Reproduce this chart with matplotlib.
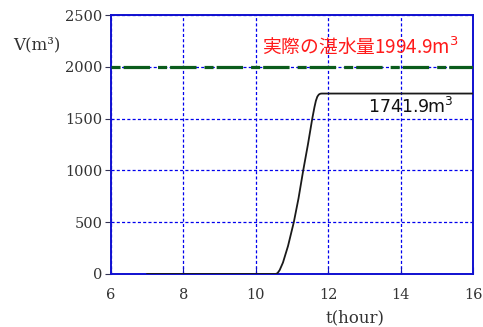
import matplotlib
matplotlib.use("Agg")
import matplotlib.pyplot as plt

# stored volume curve (hour, m3)
t_hour = [7.0, 10.55, 10.60, 10.66, 10.75, 10.89, 11.05, 11.18, 11.31, 11.44,
          11.56, 11.62, 11.66, 11.70, 11.74, 11.78, 11.82, 16.0]
volume = [0.0, 0.0, 8.0, 38.0, 110.0, 270.0, 500.0, 730.0, 1000.0, 1250.0,
          1500.0, 1610.0, 1672.0, 1712.0, 1732.0, 1740.0, 1741.9, 1741.9]
actual_volume = 1994.9
final_volume = 1741.9

plt.rcParams["lines.scale_dashes"] = False

fig = plt.figure(figsize=(4.83, 3.27), dpi=100)
ax = fig.add_axes([0.2298, 0.1621, 0.7495, 0.792])

ax.axhline(actual_volume, color="#0b5c1c", lw=2.3,
           linestyle=(0, (6.5, 2.2, 19.0, 5.8)), zorder=3)
ax.plot(t_hour, volume, color="#1a1a1a", lw=1.3, zorder=4)

ax.set_xlim(6, 16)
ax.set_ylim(0, 2500)
ax.set_xticks(range(6, 17, 2))
ax.set_yticks(range(0, 2501, 500))
ax.grid(True, color="#0000ee", lw=0.9, linestyle=(0, (2.2, 1.6)))

for side in ax.spines.values():
    side.set_color("#1010d0")
    side.set_linewidth(1.4)

ax.tick_params(axis="x", direction="in", length=5, color="#1010c0",
               labelsize=10.5, labelcolor="#333333", pad=10)
ax.tick_params(axis="y", direction="out", length=4, color="#333355",
               labelsize=10.5, labelcolor="#333333", pad=2)
for lab in ax.get_xticklabels() + ax.get_yticklabels():
    lab.set_family("DejaVu Serif")

ax.text(10.17, 2191, f"実際の湛水量{actual_volume}m$^3$", color="#ff1a1a",
        fontsize=13.5, family=["Noto Sans CJK JP", "DejaVu Sans"],
        ha="left", va="center", zorder=5)
ax.text(13.1, 1612, f"{final_volume}m$^3$", color="#111111", fontsize=12.5,
        family=["DejaVu Sans"], ha="left", va="center", zorder=5)

fig.text(0.077, 0.862, "V(m³)", family="DejaVu Serif", fontsize=12,
         color="#333333", ha="center", va="center")
fig.text(0.735, 0.028, "t(hour)", family="DejaVu Serif", fontsize=12,
         color="#333333", ha="center", va="center")

fig.savefig("out.png", dpi=100)
